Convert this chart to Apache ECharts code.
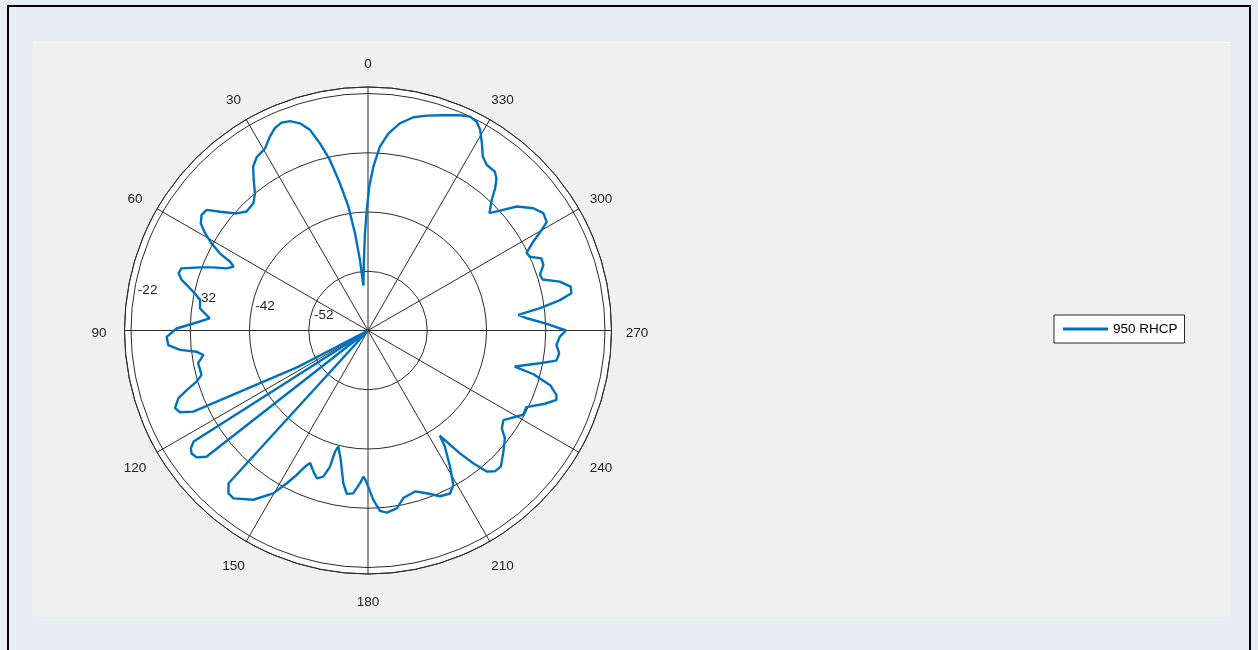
<!DOCTYPE html>
<html>
<head>
<meta charset="utf-8">
<title>950 RHCP</title>
<script src="https://cdn.jsdelivr.net/npm/echarts@6/dist/echarts.min.js"></script>
<style>
  html, body { margin: 0; padding: 0; width: 1258px; height: 650px; overflow: hidden; background: #e6eef1; }
  #frame { position: absolute; left: 7px; top: 5px; width: 1244px; height: 720px; border: 2px solid #000; box-sizing: border-box; }
  #panel { position: absolute; left: 33px; top: 42px; width: 1197px; height: 575px; background: #f0f0f0; border-top: 1px solid #ffffff; box-sizing: border-box; }
  #chart { position: absolute; left: 0; top: 0; width: 1258px; height: 650px; }
</style>
</head>
<body>
<div id="frame"></div>
<div id="panel"></div>
<div id="chart"></div>
<script>
// Measured pattern: angle (deg) and gain (dB)
const angleDeg = [
  0.6, 1.8, 3.3, 5.9, 6.5, 7.6, 9.0, 10.8, 12.6, 14.4, 16.1, 18.2, 20.4, 22.6, 24.7, 26.8, 29.5,
  32.6, 35.0, 37.2, 39.5, 42.0, 45.6, 48.3, 51.2, 53.2, 55.2, 57.4, 59.2, 60.9, 62.5, 63.5, 64.6,
  66.3, 67.8, 69.4, 71.6, 73.2, 74.8, 76.3, 77.9, 79.7, 82.5, 85.6, 87.7, 89.4, 91.8, 94.2, 95.9,
  97.1, 98.5, 100.9, 103.2, 105.0, 106.6, 108.2, 109.7, 111.9, 113.5, 114.9, 117.5, 119.5, 122.5,
  123.6, 124.9, 126.5, 128.0, 131.0, 137.6, 139.4, 141.3, 145.9, 149.8, 152.0, 153.7, 155.2, 156.4,
  158.8, 160.9, 163.0, 164.4, 164.8, 165.7, 168.1, 170.8, 172.6, 174.8, 177.0, 178.2, 178.9, 180.1,
  181.8, 183.8, 185.9, 189.2, 191.9, 196.3, 199.8, 203.5, 206.7, 208.9, 211.1, 213.5, 214.3, 216.8,
  218.4, 220.1, 222.0, 224.3, 227.8, 231.8, 233.8, 236.5, 241.5, 244.2, 247.5, 249.8, 251.1, 253.3,
  255.2, 256.2, 259.2, 260.9, 263.2, 265.6, 268.2, 270.0, 272.1, 274.4, 275.9, 277.4, 279.0, 280.4,
  282.2, 284.3, 286.3, 287.9, 290.5, 292.6, 294.5, 296.1, 298.3, 300.1, 301.3, 303.8, 306.5, 309.8,
  312.2, 314.0, 316.5, 318.2, 319.8, 321.4, 324.4, 326.6, 328.7, 330.8, 332.5, 334.5, 336.9, 340.7,
  344.7, 348.0, 351.2, 354.1, 356.3, 358.1, 359.5
];
const gainDb = [
  -41.7, -45.6, -50.1, -54.4, -50.0, -45.5, -40.8, -36.7, -32.5, -29.4, -26.8, -25.2, -24.3, -24.0, -24.4, -25.3, -26.7,
  -27.2, -28.2, -30.1, -32.0, -33.1, -33.3, -32.3, -30.0, -28.0, -27.8, -28.5, -30.0, -31.8, -33.8, -36.0, -36.9,
  -35.9, -33.8, -31.7, -28.8, -28.6, -29.4, -30.8, -32.1, -33.2, -33.4, -35.2, -32.5, -29.7, -28.0, -28.2, -30.1,
  -32.9, -33.9, -32.8, -32.9, -32.9, -31.8, -29.8, -28.0, -26.9, -27.4, -29.5, -48.7, -62.0, -27.1,
  -26.1, -25.7, -26.0, -27.4, -62.0, -27.1, -25.8, -25.7, -27.5, -30.2, -32.8, -34.8, -36.7, -37.6,
  -36.5, -35.6, -36.2, -38.1, -40.8, -41.8, -39.7, -35.9, -34.2, -34.4, -36.2, -37.3, -36.9, -35.6,
  -33.4, -31.5, -31.1, -31.6, -33.1, -33.7, -32.8, -31.5, -31.2, -32.2, -35.2, -38.5, -40.5, -36.1,
  -33.4, -30.9, -30.0, -29.9, -31.2, -32.6, -34.0, -34.6, -32.2, -32.3, -29.7, -28.1, -28.4, -29.9,
  -33.1, -36.5, -32.5, -29.8, -29.5, -30.1, -29.6, -28.6, -31.8, -35.1, -36.5, -32.7, -29.2, -27.1,
  -27.0, -28.6, -31.3, -31.5, -30.4, -30.3, -32.0, -32.2, -30.3, -28.1, -26.7, -26.4, -27.3, -29.3,
  -31.9, -33.5, -31.7, -29.8, -28.4, -27.7, -27.6, -26.8, -25.0, -23.2, -22.3, -22.0, -22.5, -23.5,
  -24.4, -25.2, -26.6, -28.6, -30.9, -34.3, -37.7
];
const seriesName = '950 RHCP';
const ringTicks = [-52, -42, -32, -22];
const spokeTicks = [0, 30, 60, 90, 120, 150, 180, 210, 240, 270, 300, 330];

// Radial scale: the centre sits at R_MIN, the last labelled ring at R_TOP
const R_MIN = -62;
const R_TOP = -22;
const CENTER = [368, 330.5];
const RING_PX = 237;     // pixel radius of the R_TOP ring
const OUTER_PX = 243.5;  // pixel radius of the outer frame circle
const LABEL_PX = 269;    // pixel radius where the angle labels sit
const span = R_TOP - R_MIN;
const axisMax = span * OUTER_PX / RING_PX;

const FONT = '13.5px "Liberation Sans", Arial, Helvetica, sans-serif';
const GRID = '#2b2b2b';
const LINE = '#0072BD';

const data = angleDeg.map((a, i) => [gainDb[i] - R_MIN, a]);
data.push(data[0]); // close the pattern

const chart = echarts.init(document.getElementById('chart'), null, { renderer: 'canvas' });

chart.setOption({
  animation: false,
  backgroundColor: 'transparent',
  polar: { center: CENTER, radius: OUTER_PX },
  angleAxis: {
    type: 'value', min: 0, max: 360, interval: 30,
    startAngle: 90, clockwise: false, z: 2,
    axisLine: { show: true, lineStyle: { color: GRID, width: 1 } },
    axisTick: { show: false },
    axisLabel: { show: false },
    splitLine: { show: true, lineStyle: { color: GRID, width: 1 } }
  },
  radiusAxis: {
    type: 'value', min: 0, max: axisMax, interval: 10, z: 2,
    axisLine: { show: false },
    axisTick: { show: false },
    axisLabel: { show: false },
    splitLine: { show: true, lineStyle: { color: GRID, width: 1 } }
  },
  legend: {
    left: 1054, top: 315,
    data: [{ name: seriesName, icon: 'rect' }],
    itemWidth: 45, itemHeight: 3,
    backgroundColor: '#ffffff',
    borderColor: '#262626', borderWidth: 1, borderRadius: 0,
    padding: [7, 7, 7, 9],
    textStyle: { fontSize: 13.5, fontFamily: '"Liberation Sans", Arial, sans-serif', color: '#000' }
  },
  series: [{
    name: seriesName,
    type: 'line',
    coordinateSystem: 'polar',
    data: data,
    symbol: 'none',
    smooth: false,
    z: 5,
    lineStyle: { color: LINE, width: 2.4 },
    itemStyle: { color: LINE }
  }]
});

// White plot disc and tick labels, placed through the polar scale
const toPx = (value, angle) => chart.convertToPixel({ seriesIndex: 0 }, [value, angle]);
const c0 = toPx(0, 0);
const edge = toPx(axisMax, 0);
const discR = Math.hypot(edge[0] - c0[0], edge[1] - c0[1]);
const labelValue = span * LABEL_PX / RING_PX;
const graphics = [{
  type: 'circle', silent: true, z: -10,
  shape: { cx: c0[0], cy: c0[1], r: discR },
  style: { fill: '#ffffff' }
}];
spokeTicks.forEach(function (a) {
  const p = toPx(labelValue, a);
  graphics.push({
    type: 'text', x: p[0], y: p[1] + 3, silent: true, z: 1,
    style: { text: String(a), font: FONT, fill: '#222',
             align: 'center', verticalAlign: 'middle',
             textAlign: 'center', textVerticalAlign: 'middle' }
  });
});
ringTicks.forEach(function (v) {
  // two leading spaces, bottom-left anchored just past the ring, along 82 deg
  const p = toPx(v - R_MIN + span / 4 / 20, 82);
  graphics.push({
    type: 'text', x: p[0], y: p[1], silent: true, z: 1,
    style: { text: '  ' + v, font: FONT, fill: '#222',
             align: 'left', verticalAlign: 'bottom',
             textAlign: 'left', textVerticalAlign: 'bottom' }
  });
});
chart.setOption({ graphic: graphics });
</script>
</body>
</html>
